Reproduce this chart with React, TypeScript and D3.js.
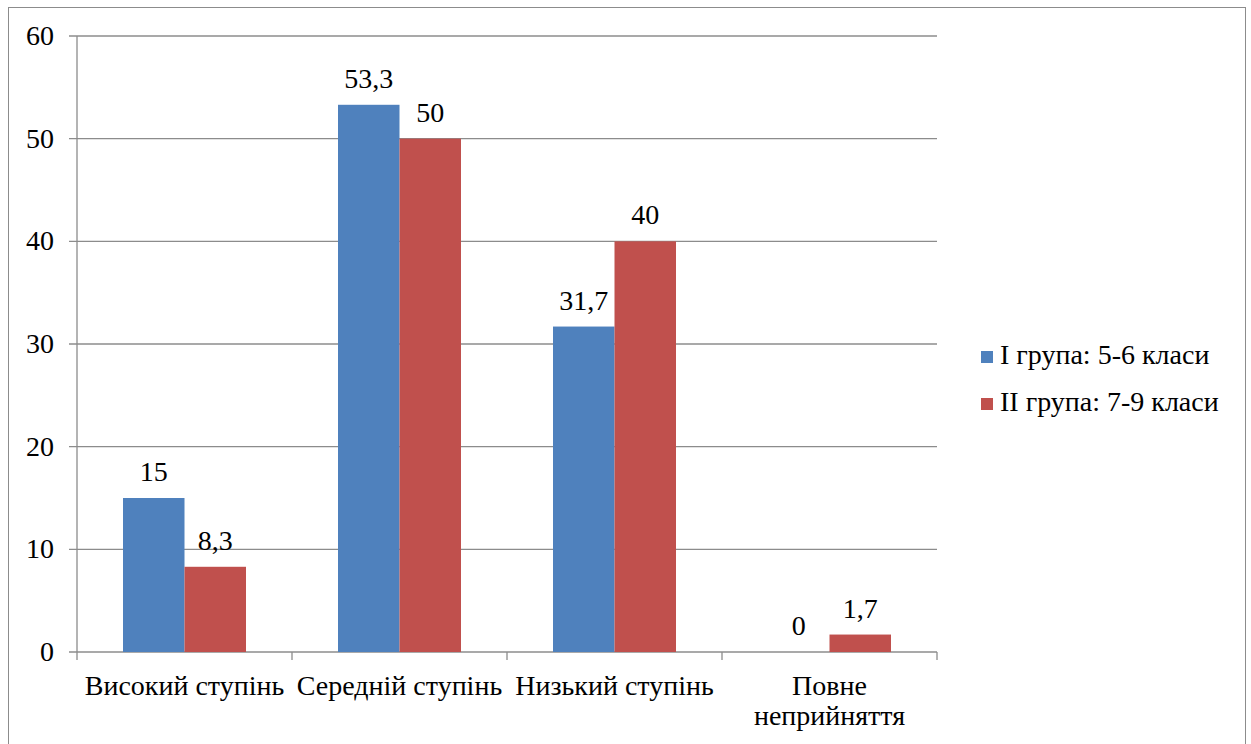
import React from 'react'
import * as d3 from 'd3'

const categories = [['Високий ступінь'], ['Середній ступінь'], ['Низький ступінь'], ['Повне', 'неприйняття']]
const seriesNames = ['I група: 5-6 класи', 'II група: 7-9 класи']
const groupI = [15, 53.3, 31.7, 0]
const groupII = [8.3, 50, 40, 1.7]
const colors = ['#4f81bd', '#c0504d']
const yTicks = [0, 10, 20, 30, 40, 50, 60]

const W = 1251
const H = 744
const plot = { left: 77, right: 937, top: 36, bottom: 652 }
const txt = { fontFamily: 'Liberation Serif', fontSize: 28 }

const fmt = (v: number) => String(v).replace('.', ',')

export default function App() {
  const x0 = d3
    .scaleBand()
    .domain(categories.map((_, i) => String(i)))
    .range([plot.left, plot.right])
  const gap = 46
  const x1 = d3
    .scaleBand()
    .domain(['0', '1'])
    .range([gap, x0.bandwidth() - gap])
  const y = d3.scaleLinear().domain([0, 60]).range([plot.bottom, plot.top])
  const series = [groupI, groupII]

  return (
    <svg width={W} height={H} style={{ position: 'absolute', left: 0, top: 0 }}>
      <rect x={0} y={0} width={W} height={H} fill="#fff" />
      <rect x={8.5} y={7.5} width={1237} height={760} fill="none" stroke="#8c8c8c" strokeWidth={1} />

      {yTicks.map(t => (
        <g key={t}>
          <line x1={plot.left - 8} x2={plot.right} y1={y(t)} y2={y(t)} stroke="#8c8c8c" strokeWidth={1.3} />
          <text x={54} y={y(t) + 9} textAnchor="end" style={txt}>
            {t}
          </text>
        </g>
      ))}
      <line x1={plot.left} x2={plot.left} y1={plot.top} y2={plot.bottom} stroke="#8c8c8c" strokeWidth={1.3} />
      {d3.range(categories.length + 1).map(i => {
        const xx = plot.left + i * x0.step()
        return <line key={i} x1={xx} x2={xx} y1={plot.bottom} y2={plot.bottom + 8} stroke="#8c8c8c" strokeWidth={1.3} />
      })}

      {categories.map((c, i) => (
        <g key={i} transform={`translate(${x0(String(i))},0)`}>
          {series.map((s, j) => (
            <g key={j}>
              <rect
                x={x1(String(j))}
                y={y(s[i])}
                width={x1.bandwidth()}
                height={y(0) - y(s[i])}
                fill={colors[j]}
              />
              <text
                x={(x1(String(j)) as number) + x1.bandwidth() / 2}
                y={y(s[i]) - 17}
                textAnchor="middle"
                style={txt}
              >
                {fmt(s[i])}
              </text>
            </g>
          ))}
          {c.map((line, k) => (
            <text key={k} x={x0.bandwidth() / 2} y={695 + k * 30} textAnchor="middle" style={txt}>
              {line}
            </text>
          ))}
        </g>
      ))}

      {seriesNames.map((n, j) => (
        <g key={n} transform={`translate(981,${364 + j * 47})`}>
          <rect x={0} y={-13} width={12} height={12} fill={colors[j]} />
          <text x={19} y={0} style={txt}>
            {n}
          </text>
        </g>
      ))}
    </svg>
  )
}
